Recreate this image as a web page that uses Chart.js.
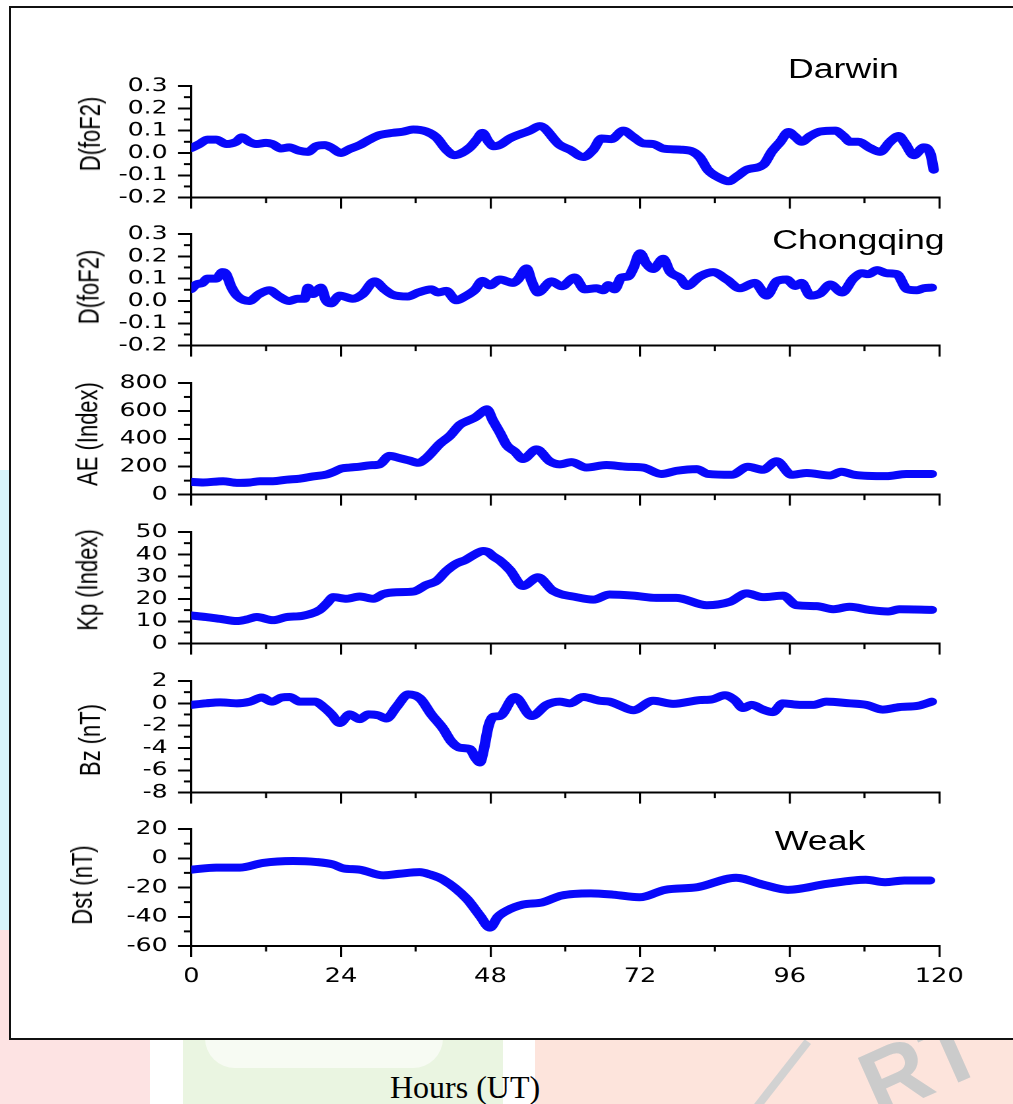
<!DOCTYPE html>
<html>
<head>
<meta charset="utf-8">
<title>Weak storm: D(foF2), AE, Kp, Bz, Dst</title>
<script src="https://cdn.jsdelivr.net/npm/chart.js@4.4.1/dist/chart.umd.min.js"></script>
<style>
  html, body { margin: 0; padding: 0; background: #fff; }
  body { position: relative; width: 1013px; height: 1104px; overflow: hidden; font-family: Arial, "Liberation Sans", sans-serif; color: #000; }
  .wm { position: absolute; }
  #frame { position: absolute; left: 9px; top: 6px; width: 1010px; height: 1030px; border: 2px solid #111; border-right: none; background: #fff; }
  /* the whole figure is stretched sideways, like the original image */
  #fig { position: absolute; left: 0; top: 0; width: 768px; height: 1000px; transform: scaleX(1.32); transform-origin: 0 0; }
  #fig canvas { position: absolute; left: 0; }
  .tag { position: absolute; font-size: 27px; line-height: 27px; white-space: nowrap; }
  .ytitle { position: absolute; font-size: 22px; line-height: 1; white-space: nowrap; transform: translate(-50%, -50%) rotate(-90deg); }
  #xlabel { position: absolute; left: 0; width: 930px; top: 1071px; text-align: center; font: 32px "Liberation Serif", "Times New Roman", serif; line-height: 32px; }
</style>
</head>
<body>
<!-- faint page watermark around the figure -->
<div class="wm" style="left:0;top:470px;width:9px;height:460px;background:#d8f4fb"></div>
<div class="wm" style="left:0;top:930px;width:9px;height:115px;background:#fde2e2"></div>
<div class="wm" style="left:0;top:1038px;width:150px;height:66px;background:#fde3e3"></div>
<div class="wm" style="left:183px;top:1038px;width:320px;height:66px;background:#eaf5e1"></div>
<div class="wm" style="left:205px;top:1038px;width:238px;height:30px;background:#f7fbf3;border-radius:0 0 60px 60px"></div>
<div class="wm" style="left:535px;top:1038px;width:478px;height:66px;background:#fde4dc"></div>
<div class="wm" style="left:770px;top:1030px;width:8px;height:110px;background:#d2d2d2;transform:rotate(38deg)"></div>
<div class="wm" style="left:860px;top:1012px;font:bold 92px 'Liberation Sans',Arial,sans-serif;color:#cbcbcb;transform:rotate(-24deg)">RT</div>

<div id="frame"></div>
<div id="fig">
  <div class="tag" style="left:597px;top:56px">Darwin</div>
  <div class="tag" style="left:585px;top:227px">Chongqing</div>
  <div class="tag" style="left:587px;top:828px">Weak</div>
</div>
<div id="xlabel">Hours (UT)</div>

<script>
// ---- data (hours UT, value) ----
const hrsDarwin = [0,1.3,2.6,4.0,5.6,7.2,8.1,9.3,10.4,12.0,13.0,14.4,15.7,17.3,18.7,20.0,21.4,22.4,24.0,25.4,27.0,28.6,30.2,32.3,33.9,35.6,37.7,39.3,40.9,42.2,43.1,44.7,45.8,46.7,47.7,48.5,49.5,51.1,54.3,55.9,59.1,60.7,62.9,64.5,65.8,67.4,69.3,70.9,72.5,74.1,75.7,78.4,80.5,81.6,82.9,84.8,86.2,87.5,89.1,91.8,93.1,94.5,95.8,96.9,97.9,99.3,100.9,103.3,104.6,105.7,107.0,108.9,110.5,112.1,113.5,114.5,115.9,117.5,118.6,119.1];
const darwin = [0.022,0.04,0.06,0.06,0.04,0.05,0.07,0.05,0.04,0.045,0.04,0.02,0.025,0.01,0.005,0.03,0.035,0.025,0.0,0.018,0.035,0.06,0.08,0.09,0.095,0.105,0.096,0.07,0.015,-0.01,-0.004,0.025,0.06,0.09,0.05,0.03,0.036,0.065,0.1,0.12,0.036,0.015,-0.018,0.015,0.065,0.062,0.1,0.072,0.043,0.04,0.02,0.015,0.005,-0.02,-0.077,-0.113,-0.127,-0.106,-0.075,-0.052,0.005,0.05,0.094,0.072,0.05,0.076,0.096,0.1,0.076,0.05,0.05,0.022,0.005,0.05,0.076,0.043,-0.01,0.025,-0.006,-0.075];

const hrsChongqing = [0,0.8,1.8,2.6,4.0,5.0,5.6,6.4,7.4,9.3,10.9,12.5,14.1,15.7,17.1,18.2,18.7,19.5,20.8,21.6,22.4,23.8,25.9,27.5,29.4,31.0,32.3,34.7,36.4,38.5,39.6,40.9,42.5,43.9,45.5,46.7,47.9,49.5,51.6,52.4,53.8,54.6,55.6,57.8,59.4,61.5,63.1,65.0,66.1,66.9,67.9,69.0,70.1,70.9,72.0,73.0,74.1,75.7,76.8,78.4,79.5,81.6,83.7,85.9,88.0,90.4,92.3,93.9,95.5,96.9,97.9,99.3,100.9,102.5,104.4,106.2,107.6,108.6,110.0,111.6,113.2,114.8,116.4,117.5,118.8];
const chongqing = [0.053,0.074,0.081,0.1,0.1,0.129,0.12,0.064,0.022,0.0,0.031,0.048,0.02,0.0,0.01,0.01,0.06,0.031,0.06,0.003,-0.011,0.024,0.01,0.031,0.088,0.052,0.028,0.02,0.038,0.052,0.038,0.045,0.003,0.02,0.05,0.09,0.07,0.096,0.081,0.096,0.146,0.088,0.038,0.088,0.066,0.105,0.052,0.057,0.048,0.071,0.052,0.105,0.11,0.146,0.214,0.167,0.143,0.189,0.131,0.103,0.067,0.11,0.129,0.096,0.057,0.081,0.024,0.088,0.096,0.067,0.081,0.024,0.034,0.074,0.038,0.1,0.124,0.12,0.138,0.124,0.12,0.053,0.048,0.057,0.06];

const hrsAE = [0,1.9,5.1,7.3,9.4,11.0,13.1,15.3,17.4,19.5,21.7,22.7,24.1,25.4,27.0,28.6,30.2,31.8,33.4,35.0,36.4,37.7,39.9,41.5,43.1,44.4,45.6,46.6,47.4,48.4,49.5,50.6,51.9,53.2,55.4,57.5,59.1,61.0,63.4,66.6,69.8,72.5,75.4,77.9,81.1,82.9,86.7,89.3,91.7,93.9,96.3,98.7,102.5,104.3,106.4,111.5,114.7,118.8];
const ae = [91,87,96,84,87,96,96,107,114,130,144,160,187,194,200,210,217,278,262,244,228,262,365,422,501,530,555,590,612,530,445,354,308,255,324,239,217,233,194,212,200,194,148,171,183,148,142,200,178,239,142,155,137,164,142,132,148,148];

const hrsKp = [0,2.4,4.6,7.3,8.9,10.5,13.1,15.3,17.9,20.6,21.7,22.8,24.9,27.0,29.2,30.8,32.9,35.6,37.7,39.3,40.9,42.5,44.0,45.5,46.8,47.6,48.5,49.5,51.1,53.2,55.6,58.0,61.8,64.5,67.1,70.9,74.6,77.8,82.7,86.4,89.1,91.7,94.9,97.1,100.3,103.0,105.6,108.8,111.8,113.6,118.8];
const kp = [12.6,11.9,11.1,10.1,10.8,11.9,10.5,11.9,12.5,15.1,17.9,20.8,20.1,21.1,20.1,22.2,23.0,23.3,26.3,28.0,32.5,35.8,37.5,40.0,41.5,41.0,39.0,37.2,33.0,25.8,29.7,23.7,20.8,19.7,22.0,21.5,20.5,20.5,17.2,18.7,22.5,20.8,21.5,17.2,16.8,15.4,16.5,15.1,14.4,15.4,15.1];

const hrsBz = [0,2.4,4.6,7.3,9.4,11.3,12.9,14.5,15.8,17.4,19.8,21.4,22.5,23.8,25.4,27.0,28.4,30.0,31.3,32.9,34.8,36.7,38.5,40.4,41.7,43.1,44.7,45.6,46.3,46.9,47.7,48.5,49.5,51.9,54.6,57.0,59.1,60.7,62.9,65.5,67.1,68.5,70.9,74.1,77.3,81.6,83.5,85.6,87.2,88.5,89.9,91.7,93.3,94.9,97.6,99.8,101.9,105.6,108.3,110.9,113.6,116.6,118.8];
const bz = [-0.14,0.0,0.09,0.0,0.15,0.52,0.15,0.52,0.57,0.15,0.15,-0.42,-0.99,-1.76,-0.99,-1.42,-0.99,-1.08,-1.36,-0.34,0.8,0.43,-0.99,-2.27,-3.41,-3.98,-4.1,-4.9,-5.3,-4.2,-2.0,-1.2,-1.14,0.57,-1.14,-0.14,0.15,0.0,0.57,0.23,0.15,-0.14,-0.62,0.23,-0.05,0.29,0.35,0.72,0.29,-0.42,-0.14,-0.56,-0.79,0.0,-0.14,-0.14,0.15,0.0,-0.14,-0.56,-0.34,-0.22,0.15];

const hrsDst = [0,4.0,7.8,11.5,16.3,20.1,22.7,24.4,27.0,30.8,33.4,36.6,38.3,40.4,44.2,46.3,47.9,49.2,50.6,53.2,56.3,59.4,64.1,67.7,71.9,76.0,81.2,87.4,91.6,95.7,102.0,108.2,111.3,114.4,118.5];
const dst = [-7.8,-6.4,-6.4,-3.2,-1.9,-2.6,-4.2,-6.9,-7.8,-11.7,-10.6,-9.5,-11.1,-14.7,-27.8,-39.3,-47.4,-40,-35.9,-31.7,-30.2,-25.5,-24.0,-24.9,-26.7,-21.6,-19.8,-13.3,-17.9,-21.6,-17.5,-14.7,-16.4,-15.2,-15.2];

const xTicks = { min: 0, max: 120, step: 24, minor: 12 };

// ---- layout (canvas units; the figure is stretched by S afterwards) ----
const S = 1.32;
const CW = 768;
const PLOT_L = 191.3 / S;
const PLOT_R = 939.3 / S;
const PAD_TOP = 20;
const PLOT_H = 117;
const INK = '#000';
const BLUE = 'rgb(8,8,250)';

const panels = [
  { top: 85.7,  hrs: hrsDarwin,    vals: darwin,    min: -0.2, max: 0.3, step: 0.1, minor: 0.05, dec: 1, title: 'D(foF2)',     tx: 90.5, ty: 134 },
  { top: 234.3, hrs: hrsChongqing, vals: chongqing, min: -0.2, max: 0.3, step: 0.1, minor: 0.05, dec: 1, title: 'D(foF2)',     tx: 90,   ty: 287 },
  { top: 383.3, hrs: hrsAE,        vals: ae,        min: 0,    max: 800, step: 200, minor: 100,  dec: 0, title: 'AE (Index)',  tx: 88.5, ty: 434 },
  { top: 532.3, hrs: hrsKp,        vals: kp,        min: 0,    max: 50,  step: 10,  minor: 5,    dec: 0, title: 'Kp (Index)',  tx: 88.5, ty: 580 },
  { top: 680.5, hrs: hrsBz,        vals: bz,        min: -8,   max: 2,   step: 2,   minor: 1,    dec: 0, title: 'Bz (nT)',     tx: 90.5, ty: 740 },
  { top: 829,   hrs: hrsDst,       vals: dst,       min: -60,  max: 20,  step: 20,  minor: 10,   dec: 0, title: 'Dst (nT)',    tx: 82.5, ty: 885 }
];

// short ticks halfway between the labelled ones
const minorTicks = {
  id: 'minorTicks',
  afterDraw(chart, args, opts) {
    const ctx = chart.ctx, area = chart.chartArea;
    const xs = chart.scales.x, ys = chart.scales.y;
    ctx.save();
    ctx.strokeStyle = INK;
    ctx.lineWidth = 1.6;
    for (let k = 0; xs.min + (2 * k + 1) * opts.x < xs.max; k++) {
      const px = xs.getPixelForValue(xs.min + (2 * k + 1) * opts.x);
      ctx.beginPath();
      ctx.moveTo(px, area.bottom);
      ctx.lineTo(px, area.bottom + 5.5);
      ctx.stroke();
    }
    ctx.lineWidth = 2;
    for (let k = 0; ys.min + (2 * k + 1) * opts.y < ys.max; k++) {
      const py = ys.getPixelForValue(ys.min + (2 * k + 1) * opts.y);
      ctx.beginPath();
      ctx.moveTo(area.left - 5.5, py);
      ctx.lineTo(area.left, py);
      ctx.stroke();
    }
    ctx.restore();
  }
};

const fig = document.getElementById('fig');

panels.forEach((p, i) => {
  const last = i === panels.length - 1;
  const xAxisH = last ? 52 : 14;

  const cv = document.createElement('canvas');
  cv.width = CW;
  cv.height = PAD_TOP + PLOT_H + xAxisH;
  cv.style.top = (p.top - PAD_TOP) + 'px';
  fig.appendChild(cv);

  new Chart(cv, {
    type: 'line',
    data: {
      datasets: [{
        data: p.hrs.map((h, j) => ({ x: h, y: p.vals[j] })),
        borderColor: BLUE,
        borderWidth: 8,
        borderCapStyle: 'round',
        borderJoinStyle: 'round',
        cubicInterpolationMode: 'monotone',
        pointRadius: 0,
        fill: false
      }]
    },
    options: {
      responsive: false,
      devicePixelRatio: 2,
      animation: false,
      events: [],
      layout: { padding: { top: PAD_TOP, right: CW - PLOT_R, bottom: 0, left: 0 } },
      plugins: {
        legend: { display: false },
        tooltip: { enabled: false },
        minorTicks: { x: xTicks.minor, y: p.minor }
      },
      scales: {
        x: {
          type: 'linear',
          min: xTicks.min,
          max: xTicks.max,
          ticks: {
            display: last,
            stepSize: xTicks.step,
            autoSkip: false,
            maxRotation: 0,
            padding: 8,
            color: INK,
            font: { family: '"DejaVu Sans", Arial, sans-serif', size: 19.5 },
            callback: v => String(v)
          },
          grid: { drawOnChartArea: false, drawTicks: true, tickLength: 11, tickWidth: 1.6, lineWidth: 1.6, tickColor: INK },
          border: { display: true, color: INK, width: 2 },
          afterFit: s => { s.height = xAxisH; }
        },
        y: {
          type: 'linear',
          min: p.min,
          max: p.max,
          ticks: {
            stepSize: p.step,
            autoSkip: false,
            padding: 8,
            color: INK,
            font: { family: '"DejaVu Sans", Arial, sans-serif', size: 19 },
            callback: v => Number(v).toFixed(p.dec)
          },
          grid: { drawOnChartArea: false, drawTicks: true, tickLength: 10, tickWidth: 2, lineWidth: 2, tickColor: INK },
          border: { display: true, color: INK, width: 1.6 },
          afterFit: s => { s.width = PLOT_L; }
        }
      }
    },
    plugins: [minorTicks]
  });

  const t = document.createElement('div');
  t.className = 'ytitle';
  t.textContent = p.title;
  t.style.left = (p.tx / S) + 'px';
  t.style.top = p.ty + 'px';
  fig.appendChild(t);
});
</script>
</body>
</html>
